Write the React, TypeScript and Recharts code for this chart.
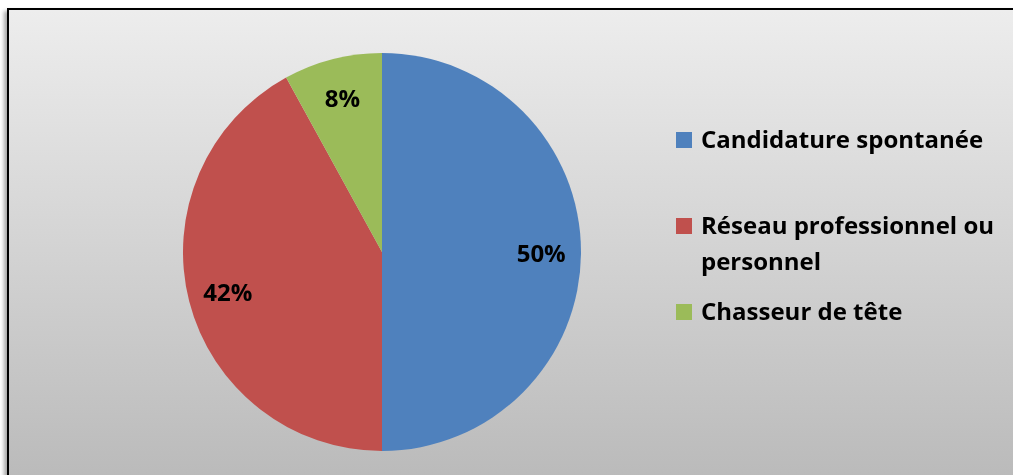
import React from "react";
import { PieChart, Pie, Cell, Legend } from "recharts";

// recrutement : canal d'embauche
const sources = ["Candidature spontanée", "Réseau professionnel ou personnel", "Chasseur de tête"];
const shares = [50, 42, 8];
const colors = ["#4F81BD", "#C0504D", "#9BBB59"];

const data = sources.map((name, i) => ({ name, value: shares[i] }));

const FONT = "'Open Sans', sans-serif";
const RAD = Math.PI / 180;

const renderLabel = (props: any) => {
  const { cx, cy, midAngle, outerRadius, percent } = props;
  const r = outerRadius * 0.8;
  const x = cx + r * Math.cos(-midAngle * RAD);
  const y = cy + r * Math.sin(-midAngle * RAD);
  return (
    <text
      x={x}
      y={y}
      textAnchor="middle"
      dominantBaseline="central"
      fill="#000"
      fontFamily={FONT}
      fontWeight={700}
      fontSize={24}
    >
      {`${Math.round(percent * 100)}%`}
    </text>
  );
};

const renderLegend = (props: any) => {
  const payload: any[] = [...(props.payload || [])].sort(
    (a, b) => sources.indexOf(a.value) - sources.indexOf(b.value)
  );
  return (
    <div style={{ fontFamily: FONT, fontWeight: 700, fontSize: 24, lineHeight: "36px", color: "#000" }}>
      {payload.map((entry: any) => (
        <div key={entry.value} style={{ display: "flex", alignItems: "flex-start", height: 86 }}>
          <span
            style={{
              width: 16,
              height: 16,
              marginTop: 11,
              marginRight: 9,
              flex: "none",
              background: entry.color,
            }}
          />
          <span style={{ width: 305 }}>{entry.value}</span>
        </div>
      ))}
    </div>
  );
};

export default function App() {
  return (
    <div style={{ position: "fixed", left: 0, top: 0, width: 1013, height: 475, overflow: "hidden" }}>
      <div
        style={{
          position: "absolute",
          left: 7,
          top: 8,
          width: 1012,
          height: 475,
          boxSizing: "border-box",
          border: "2px solid #000",
          background: "linear-gradient(to bottom, #ededed, #bababa)",
          boxShadow: "-3px 3px 4px rgba(0,0,0,0.35)",
        }}
      />
      <div style={{ position: "absolute", left: 0, top: 0 }}>
        <PieChart width={1013} height={475} margin={{ top: 0, right: 0, bottom: 0, left: 0 }}>
          <Pie
            data={data}
            dataKey="value"
            nameKey="name"
            cx={382}
            cy={252}
            outerRadius={199}
            startAngle={90}
            endAngle={-270}
            stroke="none"
            label={renderLabel}
            labelLine={false}
            isAnimationActive={false}
          >
            {data.map((d, i) => (
              <Cell key={d.name} fill={colors[i]} />
            ))}
          </Pie>
          <Legend
            layout="vertical"
            align="right"
            verticalAlign="top"
            content={renderLegend}
            wrapperStyle={{ left: 676, top: 121, width: 335 }}
          />
        </PieChart>
      </div>
    </div>
  );
}
